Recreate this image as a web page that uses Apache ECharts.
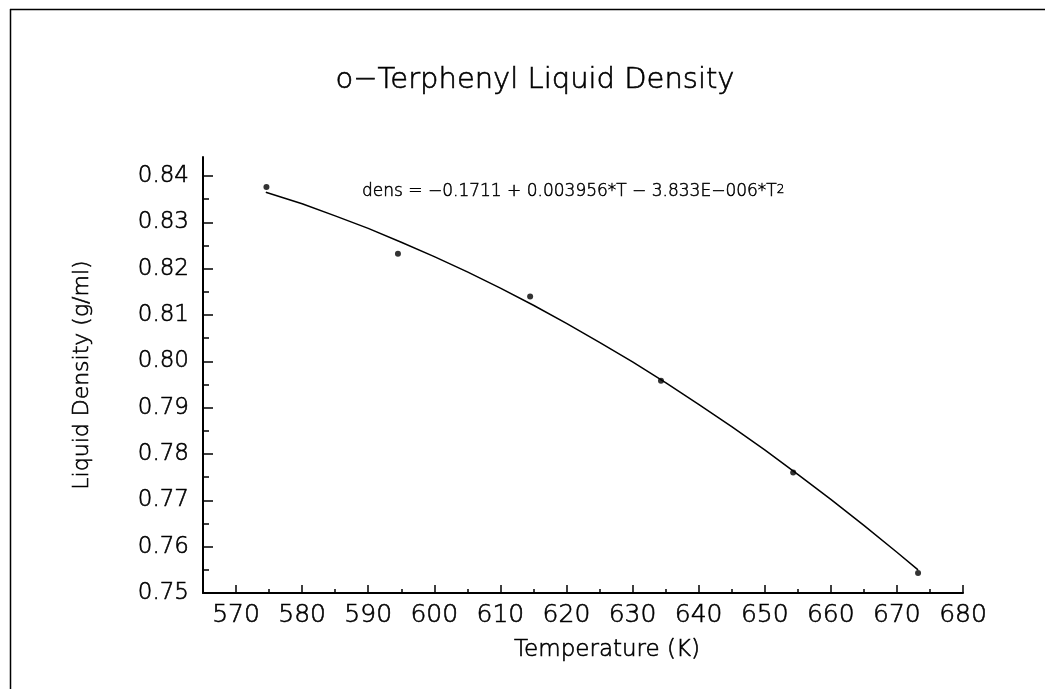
<!DOCTYPE html>
<html>
<head>
<meta charset="utf-8">
<style>
html,body{margin:0;padding:0;background:#fff;}
#c{width:1045px;height:689px;}
</style>
<script src="https://cdn.jsdelivr.net/npm/echarts@6/dist/echarts.min.js"></script>
</head>
<body>
<div id="c"></div>
<script>
// ---- data ----
var titleText = 'o\u2212Terphenyl Liquid Density';
var xAxisName = 'Temperature (K)';
var yAxisName = 'Liquid Density (g/ml)';
var equationText = 'dens = \u22120.1711 + 0.003956*T \u2212 3.833E\u2212006*T';
var measuredT = [574.6, 594.5, 614.5, 634.3, 654.3, 673.2];
var measuredDens = [0.8376, 0.8232, 0.8140, 0.7958, 0.7760, 0.7543];
var fitT = [574.5, 580, 585, 590, 595, 600, 605, 610, 615, 620, 625, 630, 635, 640, 645, 650, 655, 660, 665, 670, 673.2];
var fitDens = [0.8365, 0.8340, 0.8314, 0.8287, 0.8257, 0.8226, 0.8193, 0.8158, 0.8121, 0.8082, 0.8041, 0.7999, 0.7954, 0.7907, 0.7859, 0.7809, 0.7756, 0.7702, 0.7646, 0.7588, 0.7550];
var xMajorTicks = [570, 580, 590, 600, 610, 620, 630, 640, 650, 660, 670, 680];
var xMinorTicks = [575, 585, 595, 605, 615, 625, 635, 645, 655, 665, 675];
var yMajorTicks = [0.75, 0.76, 0.77, 0.78, 0.79, 0.80, 0.81, 0.82, 0.83, 0.84];
var yMinorTicks = [0.755, 0.765, 0.775, 0.785, 0.795, 0.805, 0.815, 0.825, 0.835];

var FONT = '"DejaVu Sans", sans-serif';
var INK = '#000000';
var TW = 200; // thin plotter-like lettering
var TB = 0.6; // slight outline to keep thin strokes dark

function zip(a, b) { return a.map(function (v, i) { return [v, b[i]]; }); }

var chart = echarts.init(document.getElementById('c'), null, {renderer: 'canvas'});
var xMin = 565, xMax = 680, yMin = 0.75, yMax = 0.8441;
var gridDef = {left: 203, top: 157, right: 82, bottom: 96};

chart.setOption({
  backgroundColor: '#ffffff',
  animation: false,
  grid: gridDef,
  xAxis: [{
    type: 'value', min: xMin, max: xMax, interval: 5,
    axisLine: {show: true, onZero: false, lineStyle: {color: INK, width: 2}},
    axisTick: {show: true, inside: true, length: 8, customValues: xMajorTicks, lineStyle: {color: INK, width: 1.5}},
    axisLabel: {show: true, customValues: xMajorTicks, margin: 10, color: INK, fontFamily: FONT, fontSize: 25, fontWeight: TW,
      textBorderColor: INK, textBorderWidth: TB},
    splitLine: {show: false}
  }, {
    type: 'value', min: xMin, max: xMax, interval: 5, position: 'bottom',
    axisLine: {show: false},
    axisTick: {show: true, inside: true, length: 4, customValues: xMinorTicks, lineStyle: {color: INK, width: 1.5}},
    axisLabel: {show: false},
    splitLine: {show: false}
  }],
  yAxis: [{
    type: 'value', min: yMin, max: yMax,
    axisLine: {show: true, onZero: false, lineStyle: {color: INK, width: 2}},
    axisTick: {show: true, inside: true, length: 10, customValues: yMajorTicks, lineStyle: {color: INK, width: 1.5}},
    axisLabel: {show: true, customValues: yMajorTicks, margin: 14, color: INK, fontFamily: FONT, fontSize: 23, fontWeight: TW,
      textBorderColor: INK, textBorderWidth: TB,
      formatter: function (v) { return v.toFixed(2); }},
    splitLine: {show: false},
    name: yAxisName, nameLocation: 'middle', nameGap: 110, nameRotate: 90,
    nameTextStyle: {color: INK, fontFamily: FONT, fontSize: 22, fontWeight: TW, textBorderColor: INK, textBorderWidth: TB}
  }, {
    type: 'value', min: yMin, max: yMax, position: 'left',
    axisLine: {show: false},
    axisTick: {show: true, inside: true, length: 6, customValues: yMinorTicks, lineStyle: {color: INK, width: 1.5}},
    axisLabel: {show: false},
    splitLine: {show: false}
  }],
  graphic: [
    {type: 'line', shape: {x1: 10, y1: 9.5, x2: 1045, y2: 9.5}, style: {stroke: INK, lineWidth: 1.5}, silent: true},
    {type: 'line', shape: {x1: 10.5, y1: 9, x2: 10.5, y2: 689}, style: {stroke: INK, lineWidth: 1.5}, silent: true},
    {type: 'text', x: 535, y: 80, silent: true,
      style: {text: titleText, fill: INK, stroke: INK, lineWidth: TB, font: TW + ' 29px ' + FONT, textAlign: 'center', textVerticalAlign: 'middle'}},
    {type: 'text', x: 607, y: 650, silent: true,
      style: {text: xAxisName, fill: INK, stroke: INK, lineWidth: TB, font: TW + ' 23px ' + FONT, textAlign: 'center', textVerticalAlign: 'middle'}},
    {type: 'text', x: 362, y: 192, silent: true,
      style: {rich: {b: {fontFamily: FONT, fontSize: 17, fontWeight: TW, fill: INK, stroke: INK, lineWidth: 0.5},
                     s: {fontFamily: FONT, fontSize: 12, fontWeight: TW, fill: INK, stroke: INK, lineWidth: 0.5, verticalAlign: 'top', padding: [0, 0, 4, 0]}},
        text: '{b|' + equationText + '}{s|2}', textAlign: 'left', textVerticalAlign: 'middle'}}
  ],
  series: [{
    name: 'fit', type: 'line', data: zip(fitT, fitDens), smooth: false, showSymbol: false,
    lineStyle: {color: INK, width: 1.5}, silent: true, z: 2
  }, {
    name: 'measured', type: 'scatter', data: zip(measuredT, measuredDens),
    symbol: 'circle', symbolSize: 6, itemStyle: {color: INK}, silent: true, z: 3
  }]
});
</script>
</body>
</html>
